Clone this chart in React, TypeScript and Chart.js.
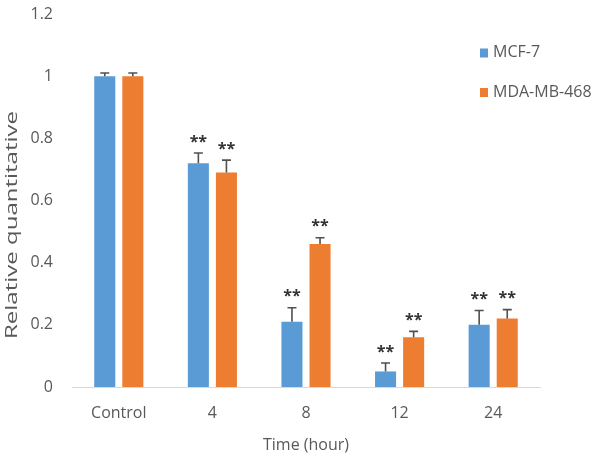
import React, { useEffect, useRef } from "react";
import { Chart, registerables } from "chart.js";

Chart.register(...registerables);

const categories = ["Control", "4", "8", "12", "24"];
const seriesNames = ["MCF-7", "MDA-MB-468"];
const mcf7 = [1.0, 0.72, 0.21, 0.05, 0.2];
const mcf7Err = [0.01, 0.033, 0.045, 0.027, 0.046];
const mda = [1.0, 0.69, 0.46, 0.16, 0.22];
const mdaErr = [0.01, 0.04, 0.02, 0.019, 0.029];
const mcf7Stars = ["", "**", "**", "**", "**"];
const mdaStars = ["", "**", "**", "**", "**"];
const yTicks = [0, 0.2, 0.4, 0.6, 0.8, 1, 1.2];

const BLUE = "#5b9bd5";
const ORANGE = "#ed7d31";
const TEXT = "#595959";
const FONT = "'Open Sans', sans-serif";

const errors = [mcf7Err, mdaErr];
const stars = [mcf7Stars, mdaStars];

const errorStarPlugin = {
  id: "errorStars",
  afterDatasetsDraw(chart: any) {
    const ctx = chart.ctx;
    const y = chart.scales.y;
    chart.data.datasets.forEach((ds: any, i: number) => {
      const meta = chart.getDatasetMeta(i);
      meta.data.forEach((bar: any, j: number) => {
        const v = ds.data[j];
        const e = errors[i][j];
        const yTop = y.getPixelForValue(v + e);
        const yBase = y.getPixelForValue(v);
        ctx.save();
        ctx.strokeStyle = "#505050";
        ctx.lineWidth = 1.6;
        ctx.beginPath();
        ctx.moveTo(bar.x, yBase);
        ctx.lineTo(bar.x, yTop);
        ctx.moveTo(bar.x - 4.5, yTop);
        ctx.lineTo(bar.x + 4.5, yTop);
        ctx.stroke();
        const s = stars[i][j];
        if (s) {
          ctx.fillStyle = "#333333";
          ctx.font = `bold 16px ${FONT}`;
          ctx.textAlign = "center";
          ctx.textBaseline = "middle";
          ctx.fillText(s, bar.x, yTop - 11);
        }
        ctx.restore();
      });
    });
  },
};

const legendTitlePlugin = {
  id: "legendTitle",
  afterDraw(chart: any) {
    const ctx = chart.ctx;
    ctx.save();
    const ys = [52.5, 92];
    chart.data.datasets.forEach((ds: any, i: number) => {
      ctx.fillStyle = ds.backgroundColor;
      ctx.fillRect(480, ys[i] - 4, 8, 9);
      ctx.fillStyle = TEXT;
      ctx.font = `16px ${FONT}`;
      ctx.textAlign = "left";
      ctx.textBaseline = "middle";
      ctx.fillText(ds.label, 493, ys[i]);
    });
    ctx.translate(12.5, 225);
    ctx.rotate(-Math.PI / 2);
    ctx.scale(1.5, 1);
    ctx.fillStyle = TEXT;
    ctx.font = `16px ${FONT}`;
    ctx.textAlign = "center";
    ctx.textBaseline = "middle";
    ctx.fillText("Relative quantitative", 0, 0);
    ctx.restore();
  },
};

export default function App() {
  const ref = useRef<HTMLCanvasElement>(null);
  useEffect(() => {
    document.body.style.margin = "0";
    const chart = new Chart(ref.current as HTMLCanvasElement, {
      type: "bar",
      data: {
        labels: categories,
        datasets: [
          { label: seriesNames[0], data: mcf7, backgroundColor: BLUE, categoryPercentage: 0.6, barPercentage: 0.75 },
          { label: seriesNames[1], data: mda, backgroundColor: ORANGE, categoryPercentage: 0.6, barPercentage: 0.75 },
        ],
      },
      options: {
        responsive: false,
        animation: false,
        layout: { padding: { top: 14, right: 60, left: 0, bottom: 0 } },
        plugins: { legend: { display: false }, tooltip: { enabled: false } },
        scales: {
          x: {
            grid: { display: false, drawTicks: false },
            border: { display: true, color: "#d9d9d9", width: 1 },
            ticks: { color: TEXT, font: { family: FONT, size: 16 }, padding: 17 },
            title: { display: true, text: "Time (hour)", color: TEXT, font: { family: FONT, size: 16 }, padding: { top: 0, bottom: 9 } },
            afterFit: (s: any) => { s.height = 77; },
          },
          y: {
            min: 0,
            max: 1.2,
            afterBuildTicks: (s: any) => { s.ticks = yTicks.map((v) => ({ value: v })); },
            grid: { display: false, drawTicks: false },
            border: { display: false },
            ticks: {
              color: TEXT,
              font: { family: FONT, size: 16 },
              padding: 19,
              callback: (v: any) => String(Number(Number(v).toFixed(1))),
            },
            afterFit: (s: any) => { s.width = 72; s.paddingTop = 0; s.paddingBottom = 0; },
          },
        },
      },
      plugins: [errorStarPlugin, legendTitlePlugin],
    });
    return () => chart.destroy();
  }, []);
  return (
    <div style={{ position: "absolute", left: 0, top: 0, width: 600, height: 464 }}>
      <canvas ref={ref} width={600} height={464} />
    </div>
  );
}
